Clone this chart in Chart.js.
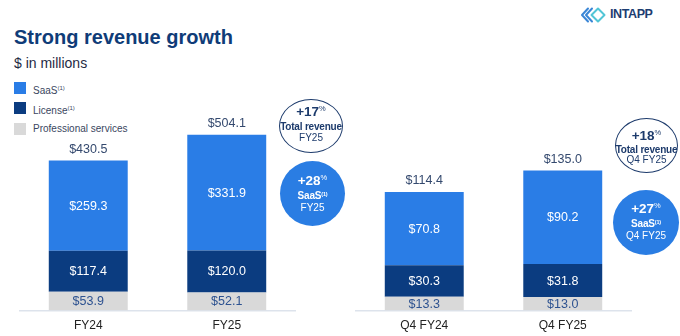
<!DOCTYPE html>
<html>
<head>
<meta charset="utf-8">
<script src="https://cdn.jsdelivr.net/npm/chart.js@4.4.1/dist/chart.umd.min.js"></script>
<style>
  html, body { margin: 0; padding: 0; background: #ffffff; }
  body { width: 680px; height: 336px; position: relative; overflow: hidden; font-family: "Liberation Sans", Arial, sans-serif; }
  .abs { position: absolute; }
  #title { left: 14px; top: 26px; font-size: 20px; font-weight: bold; color: #0f3c78; white-space: nowrap; line-height: 23px; }
  #sub { left: 14px; top: 55px; font-size: 14px; color: #1f2a44; white-space: nowrap; line-height: 16px; }
  .lg-sq { position: absolute; width: 12px; height: 12px; left: 14px; }
  .lg-tx { position: absolute; left: 33px; font-size: 10px; color: #3a4660; white-space: nowrap; line-height: 12px; }
  .lg-tx sup { font-size: 6px; vertical-align: 4px; }
  .circ { position: absolute; border-radius: 50%; box-sizing: border-box; }
  .circ div { position: absolute; left: -4px; right: -4px; text-align: center; white-space: nowrap; }
  .circ .big { font-size: 13.5px; font-weight: bold; line-height: 15px; }
  .circ .big sup { font-size: 7.5px; vertical-align: 5px; font-weight: normal; line-height: 0; }
  .circ .mid { font-size: 10px; font-weight: bold; line-height: 11px; letter-spacing: -0.2px; }
  .circ .mid sup { font-size: 5.5px; vertical-align: 3px; line-height: 0; }
  .circ .sm { font-size: 10px; line-height: 11px; }
  .outline { border: 1.3px solid #1d3b6c; color: #1d3b6c; background: #fff; }
  .filled { background: #2a7de3; color: #ffffff; }
  canvas { position: absolute; }
  #logoText { left: 610px; top: 7px; font-size: 12.5px; font-weight: bold; color: #1d3d72; line-height: 15px; letter-spacing: -0.4px; }
</style>
</head>
<body>
<div id="title" class="abs">Strong revenue growth</div>
<div id="sub" class="abs">$ in millions</div>

<div id="legend"></div>

<svg class="abs" style="left:580px;top:7px" width="28" height="16" viewBox="0 0 28 16">
  <path d="M8 1.5 L2 8 L8 14.5" fill="none" stroke="#3a86d6" stroke-width="2" stroke-linejoin="round" stroke-linecap="round"/>
  <path d="M12 1.5 L6 8 L12 14.5" fill="none" stroke="#3a86d6" stroke-width="2" stroke-linejoin="round" stroke-linecap="round"/>
  <path d="M18 1.5 L11.5 8 L18 14.5 L24.5 8 Z" fill="none" stroke="#52c5d6" stroke-width="2" stroke-linejoin="round"/>
</svg>
<div id="logoText" class="abs">INTAPP</div>

<canvas id="c1" width="277" height="241" style="left:19px;top:100px;width:277px;height:241px"></canvas>
<canvas id="c2" width="277" height="241" style="left:355px;top:100px;width:277px;height:241px"></canvas>

<div class="circ outline" style="left:279px;top:99px;width:64px;height:54px">
  <div class="big" style="top:4px">+17<sup>%</sup></div>
  <div class="mid" style="top:21px">Total revenue</div>
  <div class="sm" style="top:32px">FY25</div>
</div>
<div class="circ filled" style="left:280px;top:161px;width:65px;height:65px">
  <div class="big" style="top:12px">+28<sup>%</sup></div>
  <div class="mid" style="top:29px">SaaS<sup>(1)</sup></div>
  <div class="sm" style="top:41px">FY25</div>
</div>
<div class="circ outline" style="left:615px;top:118px;width:63px;height:55px">
  <div class="big" style="top:9px">+18<sup>%</sup></div>
  <div class="mid" style="top:25px">Total revenue</div>
  <div class="sm" style="top:35px">Q4 FY25</div>
</div>
<div class="circ filled" style="left:613px;top:190px;width:66px;height:65px">
  <div class="big" style="top:11px">+27<sup>%</sup></div>
  <div class="mid" style="top:28px">SaaS<sup>(1)</sup></div>
  <div class="sm" style="top:40px">Q4 FY25</div>
</div>

<script>
// ---- data ----
const categoriesAnnual = ['FY24', 'FY25'];
const saasAnnual = [259.3, 331.9];
const licenseAnnual = [117.4, 120.0];
const proServAnnual = [53.9, 52.1];
const totalAnnual = [430.5, 504.1];

const categoriesQ4 = ['Q4 FY24', 'Q4 FY25'];
const saasQ4 = [70.8, 90.2];
const licenseQ4 = [30.3, 31.8];
const proServQ4 = [13.3, 13.0];
const totalQ4 = [114.4, 135.0];

const seriesNames = ['SaaS', 'License', 'Professional services'];

// ---- styles ----
const COLORS = { saas: '#2a7de6', license: '#0b3c80', ps: '#d9d9d9' };
const LABEL_COLORS = { saas: '#ffffff', license: '#ffffff', ps: '#2d5290' };

// legend (HTML)
const legendRows = [
  { name: seriesNames[0], sup: true, color: COLORS.saas, top: 82 },
  { name: seriesNames[1], sup: true, color: COLORS.license, top: 102 },
  { name: seriesNames[2], sup: false, color: COLORS.ps, top: 123 }
];
const lg = document.getElementById('legend');
legendRows.forEach(r => {
  const sq = document.createElement('div');
  sq.className = 'lg-sq';
  sq.style.top = r.top + 'px';
  sq.style.background = r.color;
  lg.appendChild(sq);
  const tx = document.createElement('div');
  tx.className = 'lg-tx';
  tx.style.top = r.top + 'px';
  tx.innerHTML = r.name + (r.sup ? '<sup>(1)</sup>' : '');
  lg.appendChild(tx);
});

const fmt = v => '$' + v.toFixed(1);

const labelPlugin = {
  id: 'segLabels',
  afterDatasetsDraw(chart, args, opts) {
    const ctx = chart.ctx;
    ctx.save();
    ctx.textAlign = 'center';
    ctx.textBaseline = 'middle';
    ctx.font = '12.5px "Liberation Sans", Arial, sans-serif';
    chart.data.datasets.forEach((ds, di) => {
      const meta = chart.getDatasetMeta(di);
      meta.data.forEach((el, i) => {
        ctx.fillStyle = ds.labelColor;
        ctx.fillText(fmt(ds.data[i]), el.x, (el.y + el.base) / 2 + 0.5);
      });
    });
    const topMeta = chart.getDatasetMeta(chart.data.datasets.length - 1);
    ctx.fillStyle = '#34496e';
    topMeta.data.forEach((el, i) => {
      ctx.fillText(fmt(opts.totals[i]), el.x, el.y - 11);
    });
    ctx.restore();
  }
};

function makeChart(id, cats, ps, lic, saas, totals, yMax) {
  return new Chart(document.getElementById(id), {
    type: 'bar',
    data: {
      labels: cats,
      datasets: [
        { label: seriesNames[2], data: ps, backgroundColor: COLORS.ps, labelColor: LABEL_COLORS.ps },
        { label: seriesNames[1], data: lic, backgroundColor: COLORS.license, labelColor: LABEL_COLORS.license },
        { label: seriesNames[0], data: saas, backgroundColor: COLORS.saas, labelColor: LABEL_COLORS.saas }
      ]
    },
    options: {
      responsive: false,
      animation: false,
      devicePixelRatio: 1,
      layout: { padding: 0 },
      datasets: { bar: { categoryPercentage: 1.0, barPercentage: 0.57, borderWidth: 0 } },
      plugins: {
        legend: { display: false },
        tooltip: { enabled: false },
        segLabels: { totals: totals }
      },
      scales: {
        x: {
          stacked: true,
          grid: { display: false, drawTicks: false },
          border: { display: true, color: '#dde3ec', width: 1.5 },
          ticks: { color: '#222222', padding: 8, font: { size: 12, family: '"Liberation Sans", Arial, sans-serif' } }
        },
        y: { stacked: true, display: false, min: 0, max: yMax }
      }
    },
    plugins: [labelPlugin]
  });
}

makeChart('c1', categoriesAnnual, proServAnnual, licenseAnnual, saasAnnual, totalAnnual, 604);
makeChart('c2', categoriesQ4, proServQ4, licenseQ4, saasQ4, totalQ4, 203);
</script>
</body>
</html>
